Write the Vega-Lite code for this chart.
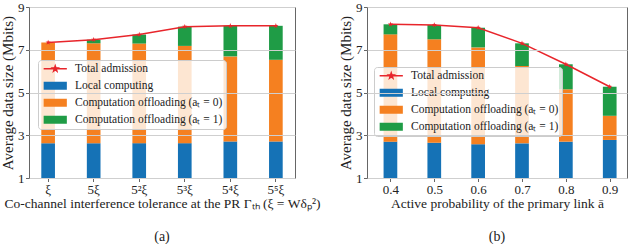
{
  "$schema": "https://vega.github.io/schema/vega-lite/v6.json",
  "background": "white",
  "padding": {"left": 0, "top": 0, "right": 0, "bottom": 0},
  "spacing": 72,
  "bounds": "flush",
  "config": {
    "font": "Liberation Serif",
    "view": {"stroke": "#666", "strokeWidth": 1},
    "axis": {
      "labelFont": "Liberation Serif", "titleFont": "Liberation Serif",
      "labelFontSize": 13, "titleFontSize": 13.5, "titleFontWeight": "normal",
      "labelColor": "#222", "titleColor": "#222",
      "domain": false, "tickColor": "#666", "tickSize": 3.5, "grid": false, "labelPadding": 1.5
    },
    "axisY": {"titleFontSize": 15, "titlePadding": 2},
    "legend": {
      "title": null, "orient": "none",
      "fillColor": "rgba(255,255,255,0.8)", "strokeColor": "#ccc", "cornerRadius": 3,
      "padding": 3, "labelFont": "Liberation Serif", "labelFontSize": 11.5, "labelColor": "#222",
      "symbolSize": 64, "symbolOffset": 8.5, "labelOffset": 14, "rowPadding": 4, "labelLimit": 300
    }
  },
  "datasets": {
    "barsA": [
      {"x": "ξ", "series": "Local computing", "v": 2.63, "k": 1},
      {"x": "ξ", "series": "Computation offloading (aₜ = 0)", "v": 4.71, "k": 2},
      {"x": "ξ", "series": "Computation offloading (aₜ = 1)", "v": 0.0, "k": 3},
      {"x": "5ξ", "series": "Local computing", "v": 2.63, "k": 1},
      {"x": "5ξ", "series": "Computation offloading (aₜ = 0)", "v": 4.67, "k": 2},
      {"x": "5ξ", "series": "Computation offloading (aₜ = 1)", "v": 0.17, "k": 3},
      {"x": "5²ξ", "series": "Local computing", "v": 2.63, "k": 1},
      {"x": "5²ξ", "series": "Computation offloading (aₜ = 0)", "v": 4.66, "k": 2},
      {"x": "5²ξ", "series": "Computation offloading (aₜ = 1)", "v": 0.42, "k": 3},
      {"x": "5³ξ", "series": "Local computing", "v": 2.63, "k": 1},
      {"x": "5³ξ", "series": "Computation offloading (aₜ = 0)", "v": 4.55, "k": 2},
      {"x": "5³ξ", "series": "Computation offloading (aₜ = 1)", "v": 0.90, "k": 3},
      {"x": "5⁴ξ", "series": "Local computing", "v": 2.71, "k": 1},
      {"x": "5⁴ξ", "series": "Computation offloading (aₜ = 0)", "v": 3.98, "k": 2},
      {"x": "5⁴ξ", "series": "Computation offloading (aₜ = 1)", "v": 1.43, "k": 3},
      {"x": "5⁵ξ", "series": "Local computing", "v": 2.71, "k": 1},
      {"x": "5⁵ξ", "series": "Computation offloading (aₜ = 0)", "v": 3.82, "k": 2},
      {"x": "5⁵ξ", "series": "Computation offloading (aₜ = 1)", "v": 1.59, "k": 3}
    ],
    "totalA": [
      {"x": "ξ", "v": 7.34}, {"x": "5ξ", "v": 7.47}, {"x": "5²ξ", "v": 7.71},
      {"x": "5³ξ", "v": 8.08}, {"x": "5⁴ξ", "v": 8.12}, {"x": "5⁵ξ", "v": 8.12}
    ],
    "barsB": [
      {"x": 0.4, "series": "Local computing", "v": 2.70, "k": 1},
      {"x": 0.4, "series": "Computation offloading (aₜ = 0)", "v": 5.02, "k": 2},
      {"x": 0.4, "series": "Computation offloading (aₜ = 1)", "v": 0.47, "k": 3},
      {"x": 0.5, "series": "Local computing", "v": 2.65, "k": 1},
      {"x": 0.5, "series": "Computation offloading (aₜ = 0)", "v": 4.84, "k": 2},
      {"x": 0.5, "series": "Computation offloading (aₜ = 1)", "v": 0.67, "k": 3},
      {"x": 0.6, "series": "Local computing", "v": 2.58, "k": 1},
      {"x": 0.6, "series": "Computation offloading (aₜ = 0)", "v": 4.53, "k": 2},
      {"x": 0.6, "series": "Computation offloading (aₜ = 1)", "v": 0.92, "k": 3},
      {"x": 0.7, "series": "Local computing", "v": 2.62, "k": 1},
      {"x": 0.7, "series": "Computation offloading (aₜ = 0)", "v": 3.62, "k": 2},
      {"x": 0.7, "series": "Computation offloading (aₜ = 1)", "v": 1.06, "k": 3},
      {"x": 0.8, "series": "Local computing", "v": 2.70, "k": 1},
      {"x": 0.8, "series": "Computation offloading (aₜ = 0)", "v": 2.45, "k": 2},
      {"x": 0.8, "series": "Computation offloading (aₜ = 1)", "v": 1.17, "k": 3},
      {"x": 0.9, "series": "Local computing", "v": 2.78, "k": 1},
      {"x": 0.9, "series": "Computation offloading (aₜ = 0)", "v": 1.13, "k": 2},
      {"x": 0.9, "series": "Computation offloading (aₜ = 1)", "v": 1.36, "k": 3}
    ],
    "totalB": [
      {"x": 0.4, "v": 8.19}, {"x": 0.5, "v": 8.16}, {"x": 0.6, "v": 8.03},
      {"x": 0.7, "v": 7.30}, {"x": 0.8, "v": 6.32}, {"x": 0.9, "v": 5.27}
    ]
  },
  "hconcat": [
    {
      "width": 266, "height": 171,
      "title": {"text": "(a)", "orient": "bottom", "offset": 20, "fontSize": 14, "fontWeight": "normal", "font": "Liberation Serif", "color": "#222"},
      "layer": [
        {
          "data": {"name": "barsA"},
          "mark": {"type": "bar", "clip": true},
          "encoding": {
            "x": {"field": "x", "type": "ordinal", "sort": null,
                  "scale": {"paddingInner": 0.7, "paddingOuter": 0.27},
                  "axis": {"labelAngle": 0, "title": "Co-channel interference tolerance at the PR Γₜₕ (ξ = Wδₚ²)", "titlePadding": 0}},
            "y": {"field": "v", "type": "quantitative", "stack": "zero",
                  "scale": {"domain": [1, 9], "nice": false, "zero": false},
                  "axis": {"values": [1, 3, 5, 7, 9], "grid": true, "gridColor": "#cfcfcf", "zindex": 1, "title": "Average data size (Mbits)"}},
            "color": {"field": "series", "type": "nominal",
                      "scale": {"domain": ["Total admission", "Local computing", "Computation offloading (aₜ = 0)", "Computation offloading (aₜ = 1)"],
                                "range": ["#e8252b", "#1572b6", "#f58020", "#1f9c46"]},
                      "legend": {"legendX": 9, "legendY": 53, "labelFont": "Liberation Serif", "labelFontSize": 11.5,
                        "encode": {
                          "labels": {"update": {"font": {"value": "Liberation Serif"}}},
                          "symbols": {"update": {
                          "shape": {"signal": "datum.value === 'Total admission' ? 'M-2.9,0H2.9M0,-0.7L0.16,-0.23L0.67,-0.22L0.27,0.09L0.41,0.57L0,0.28L-0.41,0.57L-0.27,0.09L-0.67,-0.22L-0.16,-0.23Z' : 'M-2.9,-1H2.9V1H-2.9Z'"},
                          "fill": {"signal": "datum.value === 'Total admission' ? '#e8252b' : datum.value === 'Local computing' ? '#1572b6' : datum.value === 'Computation offloading (aₜ = 0)' ? '#f58020' : '#1f9c46'"},
                          "stroke": {"signal": "datum.value === 'Total admission' ? '#e8252b' : datum.value === 'Local computing' ? '#1572b6' : datum.value === 'Computation offloading (aₜ = 0)' ? '#f58020' : '#1f9c46'"},
                          "strokeWidth": {"signal": "datum.value === 'Total admission' ? 1.5 : 0"},
                          "opacity": {"value": 1}
                        }}}}},
            "order": {"field": "k", "type": "quantitative"}
          }
        },
        {
          "data": {"name": "totalA"},
          "mark": {"type": "line", "strokeWidth": 1.5},
          "encoding": {
            "x": {"field": "x", "type": "ordinal", "sort": null},
            "y": {"field": "v", "type": "quantitative"},
            "color": {"datum": "Total admission"}
          }
        },
        {
          "data": {"name": "totalA"},
          "mark": {"type": "point", "shape": "M0,-1L0.235,-0.324L0.951,-0.309L0.38,0.124L0.588,0.809L0,0.4L-0.588,0.809L-0.38,0.124L-0.951,-0.309L-0.235,-0.324Z", "filled": true, "size": 30, "color": "#e8252b", "opacity": 1},
          "encoding": {
            "x": {"field": "x", "type": "ordinal", "sort": null},
            "y": {"field": "v", "type": "quantitative"}
          }
        }
      ]
    },
    {
      "width": 260, "height": 171,
      "title": {"text": "(b)", "orient": "bottom", "offset": 20, "fontSize": 14, "fontWeight": "normal", "font": "Liberation Serif", "color": "#222"},
      "layer": [
        {
          "data": {"name": "barsB"},
          "mark": {"type": "bar", "clip": true, "size": 13.7},
          "encoding": {
            "x": {"field": "x", "type": "quantitative",
                  "scale": {"domain": [0.358, 0.928], "nice": false, "zero": false},
                  "axis": {"values": [0.4, 0.5, 0.6, 0.7, 0.8, 0.9], "format": ".1f", "title": "Active probability of the primary link ā", "titlePadding": 0}},
            "y": {"field": "v", "type": "quantitative", "stack": "zero",
                  "scale": {"domain": [1, 9], "nice": false, "zero": false},
                  "axis": {"values": [1, 3, 5, 7, 9], "grid": true, "gridColor": "#cfcfcf", "zindex": 1, "title": "Average data size (Mbits)"}},
            "color": {"field": "series", "type": "nominal",
                      "scale": {"domain": ["Total admission", "Local computing", "Computation offloading (aₜ = 0)", "Computation offloading (aₜ = 1)"],
                                "range": ["#e8252b", "#1572b6", "#f58020", "#1f9c46"]},
                      "legend": {"legendX": 7, "legendY": 60, "labelFont": "Liberation Serif", "labelFontSize": 11.5,
                        "encode": {
                          "labels": {"update": {"font": {"value": "Liberation Serif"}}},
                          "symbols": {"update": {
                          "shape": {"signal": "datum.value === 'Total admission' ? 'M-2.9,0H2.9M0,-0.7L0.16,-0.23L0.67,-0.22L0.27,0.09L0.41,0.57L0,0.28L-0.41,0.57L-0.27,0.09L-0.67,-0.22L-0.16,-0.23Z' : 'M-2.9,-1H2.9V1H-2.9Z'"},
                          "fill": {"signal": "datum.value === 'Total admission' ? '#e8252b' : datum.value === 'Local computing' ? '#1572b6' : datum.value === 'Computation offloading (aₜ = 0)' ? '#f58020' : '#1f9c46'"},
                          "stroke": {"signal": "datum.value === 'Total admission' ? '#e8252b' : datum.value === 'Local computing' ? '#1572b6' : datum.value === 'Computation offloading (aₜ = 0)' ? '#f58020' : '#1f9c46'"},
                          "strokeWidth": {"signal": "datum.value === 'Total admission' ? 1.5 : 0"},
                          "opacity": {"value": 1}
                        }}}}},
            "order": {"field": "k", "type": "quantitative"}
          }
        },
        {
          "data": {"name": "totalB"},
          "mark": {"type": "line", "strokeWidth": 1.5},
          "encoding": {
            "x": {"field": "x", "type": "quantitative"},
            "y": {"field": "v", "type": "quantitative"},
            "color": {"datum": "Total admission"}
          }
        },
        {
          "data": {"name": "totalB"},
          "mark": {"type": "point", "shape": "M0,-1L0.235,-0.324L0.951,-0.309L0.38,0.124L0.588,0.809L0,0.4L-0.588,0.809L-0.38,0.124L-0.951,-0.309L-0.235,-0.324Z", "filled": true, "size": 30, "color": "#e8252b", "opacity": 1},
          "encoding": {
            "x": {"field": "x", "type": "quantitative"},
            "y": {"field": "v", "type": "quantitative"}
          }
        }
      ]
    }
  ],
  "resolve": {"scale": {"color": "independent"}, "legend": {"color": "independent"}}
}
